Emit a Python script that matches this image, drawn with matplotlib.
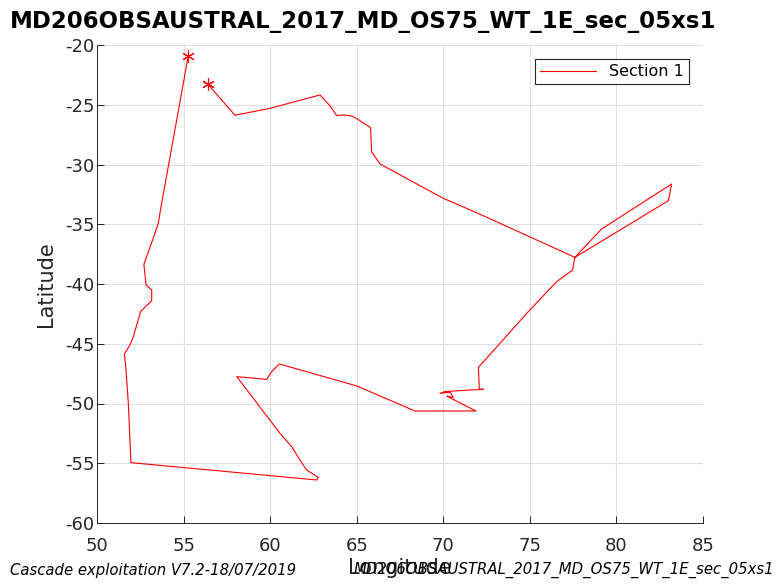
import matplotlib
matplotlib.use('Agg')
import matplotlib.pyplot as plt

plt.rcParams['axes.unicode_minus'] = False

# track (lon, lat)
lon = [56.39, 57.97, 59.99, 62.88, 63.46, 63.84, 64.23, 64.70, 64.99, 65.80,
       65.86, 66.35, 70.00, 71.35, 73.28, 77.60, 79.14, 83.19, 83.00, 77.60,
       77.55, 77.47, 76.55, 74.82, 73.28, 72.03, 72.08, 72.31, 70.10, 69.81,
       70.40, 70.58, 70.19, 71.89, 68.37, 65.00, 60.53, 60.09, 59.80, 58.07,
       60.57, 61.24, 61.72, 62.10, 62.78, 62.69, 51.96, 51.81, 51.66, 51.58,
       51.90, 52.10, 52.52, 53.16, 53.16, 52.83, 52.71, 53.21, 53.54, 53.73,
       54.22, 55.27]
lat = [-23.26, -25.88, -25.30, -24.18, -25.10, -25.90, -25.86, -25.94, -26.14, -26.92,
       -28.93, -29.96, -32.83, -33.67, -34.92, -37.77, -35.40, -31.63, -33.03, -37.77,
       -38.13, -38.83, -39.80, -42.45, -44.96, -46.97, -48.80, -48.81, -49.00, -49.15,
       -49.05, -49.50, -49.37, -50.63, -50.63, -48.53, -46.69, -47.33, -47.98, -47.75,
       -52.50, -53.60, -54.73, -55.56, -56.18, -56.40, -54.95, -49.98, -46.90, -45.86,
       -45.10, -44.40, -42.30, -41.40, -40.50, -40.08, -38.35, -36.32, -34.92, -33.25,
       -29.35, -20.92]

xticks = [50, 55, 60, 65, 70, 75, 80, 85]
yticks = [-20, -25, -30, -35, -40, -45, -50, -55, -60]
title = 'MD206OBSAUSTRAL_2017_MD_OS75_WT_1E_sec_05xs1'

fig = plt.figure(figsize=(7.77, 5.85), dpi=100)
ax = fig.add_axes([97/777, 1-523/585, 606/777, 478/585])

ax.plot(lon, lat, color='red', lw=0.8, label='Section 1')
ax.plot([lon[0], lon[-1]], [lat[0], lat[-1]], ls='none', marker=(6, 2, 0),
        ms=9, mec='red', mew=0.8)

ax.set_xlim(50, 85)
ax.set_ylim(-60, -20)
ax.set_xticks(xticks)
ax.set_yticks(yticks)
ax.grid(True, color='#e0e0e0', lw=0.8)
ax.set_axisbelow(True)
for s in ['top', 'right']:
    ax.spines[s].set_visible(False)
for s in ['left', 'bottom']:
    ax.spines[s].set_color('#262626')
    ax.spines[s].set_linewidth(0.7)
ax.tick_params(direction='in', length=5, width=0.7, labelsize=13,
               colors='#262626', pad=2)
ax.tick_params(axis='x', pad=10)
ax.set_ylabel('Latitude', fontsize=15, color='#262626', labelpad=6)
ax.set_xlabel('Longitude', fontsize=15, color='#262626', labelpad=2)

leg = ax.legend(loc='upper right', fontsize=11.5, fancybox=False,
                edgecolor='#262626', framealpha=1, handlelength=3.5,
                borderaxespad=0.9, borderpad=0.3)
leg.get_frame().set_linewidth(0.8)

fig.text(0.013, 0.963, title, fontsize=16.5, fontweight='bold', ha='left', va='center')
fig.text(0.013, 0.012, 'Cascade exploitation V7.2-18/07/2019', fontsize=10.7,
         style='italic', ha='left', va='bottom')
fig.text(0.997, 0.012, title, fontsize=10.7, style='italic', ha='right', va='bottom')

fig.savefig('out.png', dpi=100)
